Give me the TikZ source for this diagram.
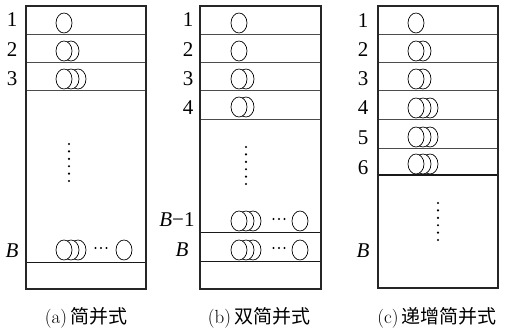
\documentclass[tikz,border=0pt]{standalone}
\usepackage{fontspec}
\setmainfont{Liberation Serif}
\newfontfamily\cjk{Noto Sans CJK SC}
\newfontfamily\lmr{Latin Modern Roman}
\begin{document}
\begin{tikzpicture}[x=1pt,y=-1pt,
  boxline/.style={line width=1.1pt,black!85},
  rowline/.style={line width=0.8pt,black!70},
  ell/.style={line width=0.7pt,fill=white,draw=black},
  lab/.style={font=\fontsize{21}{21}\selectfont,inner sep=0pt},
  captext/.style={font=\fontsize{19}{19}\selectfont,inner sep=0pt}]
\useasboundingbox (0,0) rectangle (514,333);
\newcommand{\stackE}[3]{%
  \foreach \k in {#3,...,1}{\draw[ell] ({#1+(\k-1)*7},#2) ellipse [x radius=8,y radius=10];}}
\newcommand{\vdotsE}[2]{%
  \foreach \k in {0,...,5}{\fill ({#1},{#2+\k*7.4}) circle (1.2);}}
\newcommand{\hdotsE}[2]{%
  \foreach \k in {-1,0,1}{\fill ({#1+\k*5.5},#2) circle (1.2);}}

% ---------- panel (a)
\foreach \yy in {34,62,90}{\draw[rowline] (26,\yy) -- (146,\yy);}
\draw[line width=1pt,black!90] (26,262) -- (146,262);
\draw[boxline] (26,6) rectangle (146,289);
\stackE{64}{23}{1}
\stackE{64}{51}{2}
\stackE{64}{79}{3}
\vdotsE{69}{144}
\stackE{64}{250}{3}
\hdotsE{101}{248}
\stackE{124}{250}{1}
\node[lab] (a1) at (12,20) {1};
\node[lab] (a2) at (12,50) {2};
\node[lab] (a3) at (12,79) {3};
\node[lab] (aB) at (12,251) {\textit{B}};
\node[captext] (capa) at (86,318) {\lmr (a)\,\cjk 简并式};

% ---------- panel (b)
\foreach \yy in {34,62,90,119}{\draw[rowline] (200,\yy) -- (321,\yy);}
\draw[line width=1pt,black!90] (200,232) -- (321,232);
\draw[line width=1pt,black!90] (200,261) -- (321,261);
\draw[boxline] (200,6) rectangle (321,289);
\stackE{239}{23}{1}
\stackE{239}{51}{1}
\stackE{239}{79}{2}
\stackE{239}{107}{2}
\vdotsE{246}{147}
\stackE{239}{221}{3}
\hdotsE{279}{219}
\stackE{300}{221}{1}
\stackE{239}{250}{3}
\hdotsE{279}{248}
\stackE{300}{250}{1}
\node[lab] (b1) at (188,20) {1};
\node[lab] (b2) at (188,50) {2};
\node[lab] (b3) at (188,79) {3};
\node[lab] (b4) at (188,108) {4};
\node[lab] (bB1) at (177,220) {\textit{B}−1};
\node[lab] (bB) at (182,250) {\textit{B}};
\node[captext] (capb) at (259,318) {\lmr (b)\,\cjk 双简并式};

% ---------- panel (c)
\foreach \yy in {34,62,90,119,148}{\draw[rowline] (378,\yy) -- (498,\yy);}
\draw[line width=1.2pt,black!90] (378,175) -- (498,175);
\draw[boxline] (378,6) rectangle (498,288);
\stackE{416}{23}{1}
\stackE{416}{51}{2}
\stackE{416}{79}{2}
\stackE{416}{108}{3}
\stackE{416}{137}{3}
\stackE{416}{164}{3}
\vdotsE{438}{203}
\node[lab] (c1) at (363,21) {1};
\node[lab] (c2) at (363,50) {2};
\node[lab] (c3) at (363,79) {3};
\node[lab] (c4) at (363,108) {4};
\node[lab] (c5) at (363,138) {5};
\node[lab] (c6) at (363,168) {6};
\node[lab] (cB) at (363,251) {\textit{B}};
\node[captext] (capc) at (437,318) {\lmr (c)\,\cjk 递增简并式};
\end{tikzpicture}
\end{document}
